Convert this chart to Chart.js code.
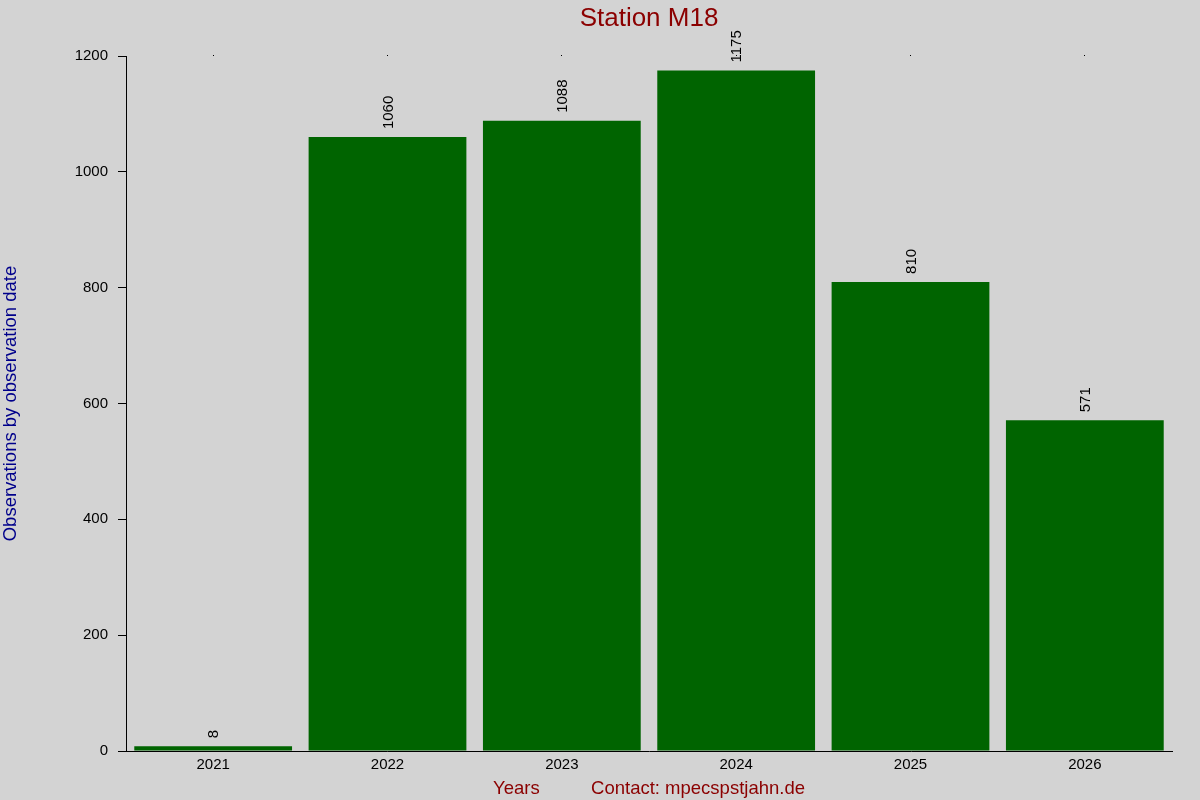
<!DOCTYPE html>
<html lang="en">
<head>
  <meta charset="UTF-8"/>
  <title>Station M18</title>
  <script src="https://cdn.jsdelivr.net/npm/chart.js"></script>
  <style>
    html, body { margin: 0; padding: 0; background: #d3d3d3; overflow: hidden; }
    #stationChart { display: block; }
  </style>
</head>
<body>
<canvas id="stationChart" width="1200" height="800"></canvas>
<script>
const years = ['2021', '2022', '2023', '2024', '2025', '2026'];
const observations = [8, 1060, 1088, 1175, 810, 571];
const yTicks = [0, 200, 400, 600, 800, 1000, 1200];

const FONT = 'Liberation Sans, Arial, sans-serif';

// rotated value labels above each bar
const barLabels = {
  id: 'barLabels',
  afterDatasetsDraw(chart) {
    const ctx = chart.ctx;
    const meta = chart.getDatasetMeta(0);
    ctx.save();
    ctx.font = '15px ' + FONT;
    ctx.fillStyle = '#000';
    ctx.textAlign = 'left';
    ctx.textBaseline = 'middle';
    meta.data.forEach((bar, i) => {
      ctx.save();
      ctx.translate(bar.x + 1, bar.y - 8);
      ctx.rotate(-Math.PI / 2);
      ctx.fillText(String(observations[i]), 0, 0);
      ctx.restore();
    });
    ctx.restore();
  }
};

new Chart(document.getElementById('stationChart'), {
  type: 'bar',
  data: {
    labels: years,
    datasets: [{
      data: observations,
      backgroundColor: '#006400',
      borderWidth: 0,
      barPercentage: 0.905,
      categoryPercentage: 1.0
    }]
  },
  options: {
    responsive: false,
    animation: false,
    devicePixelRatio: 1,
    layout: { padding: { left: 0, right: 28, top: 0, bottom: 0 } },
    plugins: {
      legend: { display: false },
      tooltip: { enabled: false },
      title: { display: false }
    },
    scales: {
      x: {
        position: 'bottom',
        grid: { display: false, drawTicks: false },
        border: { display: true, color: '#000', width: 1 },
        ticks: { color: '#000', font: { family: FONT, size: 15 }, padding: 5, maxRotation: 0, autoSkip: false },
        title: {
          display: true,
          text: 'Years          Contact: mpecspstjahn.de',
          color: '#8b0000',
          font: { family: FONT, size: 18.5 },
          padding: { top: 3, bottom: 0 }
        },
        afterFit(scale) { scale.height = 49; }
      },
      xTop: {
        position: 'top',
        type: 'category',
        labels: years,
        offset: true,
        grid: { display: true, drawOnChartArea: false, drawTicks: true, tickLength: 1, offset: false, color: '#000' },
        border: { display: false },
        ticks: { display: false },
        title: {
          display: true,
          text: 'Station M18',
          color: '#8b0000',
          font: { family: FONT, size: 26 },
          padding: { top: 3, bottom: 0 }
        },
        afterFit(scale) { scale.height = 56; }
      },
      y: {
        min: 0,
        max: 1200,
        afterBuildTicks(scale) { scale.ticks = yTicks.map(v => ({ value: v })); },
        grid: { display: true, drawOnChartArea: false, drawTicks: true, tickLength: 8, color: '#000' },
        border: { display: true, color: '#000', width: 1 },
        ticks: { color: '#000', font: { family: FONT, size: 15 }, padding: 10, callback: v => String(v) },
        title: {
          display: true,
          text: 'Observations by observation date',
          color: '#00008b',
          font: { family: FONT, size: 18.5 },
          padding: { top: 0, bottom: 0 }
        },
        afterFit(scale) { scale.width = 126; }
      }
    }
  },
  plugins: [barLabels, {
    id: 'bg',
    beforeDraw(chart) {
      const c = chart.ctx;
      c.save();
      c.fillStyle = '#d3d3d3';
      c.fillRect(0, 0, chart.width, chart.height);
      c.restore();
    }
  }]
});
</script>
</body>
</html>
